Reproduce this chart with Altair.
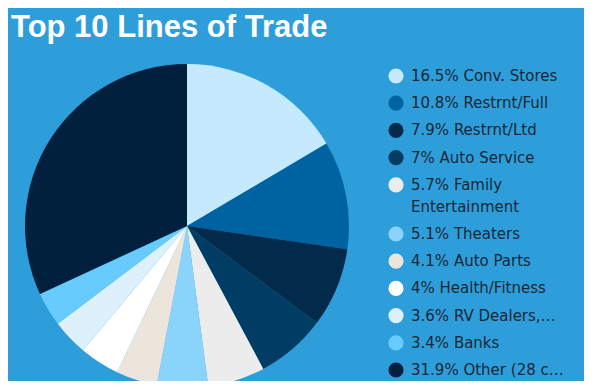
import altair as alt
import pandas as pd

labels = [
    "16.5% Conv. Stores",
    "10.8% Restrnt/Full",
    "7.9% Restrnt/Ltd",
    "7% Auto Service",
    "5.7% Family Entertainment",
    "5.1% Theaters",
    "4.1% Auto Parts",
    "4% Health/Fitness",
    "3.6% RV Dealers,…",
    "3.4% Banks",
    "31.9% Other (28 c…",
]
shares = [16.5, 10.8, 7.9, 7.0, 5.7, 5.1, 4.1, 4.0, 3.6, 3.4, 31.9]
colors = [
    "#c6eafd", "#0063a1", "#012a4b", "#003c64", "#ececec", "#8ad3fb",
    "#ebe5dc", "#ffffff", "#ddf1fd", "#68cbfd", "#00203d",
]

df = pd.DataFrame({"label": labels, "share": shares, "order": list(range(len(labels)))})

label_expr = (
    "datum.label == '5.7% Family Entertainment' ? "
    "['5.7% Family', 'Entertainment'] : datum.label"
)

chart = (
    alt.Chart(df)
    .mark_arc(radius=162, strokeWidth=0)
    .encode(
        theta=alt.Theta("share:Q", stack=True),
        color=alt.Color(
            "label:N",
            sort=labels,
            scale=alt.Scale(domain=labels, range=colors),
            legend=alt.Legend(
                title=None,
                orient="none",
                legendX=380,
                legendY=-5,
                symbolType="circle",
                symbolSize=230,
                symbolStrokeWidth=0,
                symbolOpacity=1,
                labelFont="DejaVu Sans",
                labelFontSize=15,
                labelColor="#1b2735",
                labelOffset=7,
                labelLimit=300,
                rowPadding=11.2,
                padding=0,
                labelExpr=label_expr,
            ),
        ),
        order=alt.Order("order:Q"),
        tooltip=["label:N", "share:Q"],
    )
    .properties(
        width=358,
        height=306,
        autosize="none",
        padding={"left": 0, "top": 65, "right": 218, "bottom": 2},
        background="#2e9edb",
        title=alt.Title(
            "Top 10 Lines of Trade",
            anchor="start",
            font="Liberation Sans",
            fontSize=31,
            fontWeight="bold",
            color="#ffffff",
            dx=3,
            dy=-16,
        ),
    )
    .configure(style={"guide-label": {"lineHeight": 22}})
    .configure_view(strokeWidth=0)
)

chart.save("out.html", embed_options={"renderer": "svg", "actions": False})
